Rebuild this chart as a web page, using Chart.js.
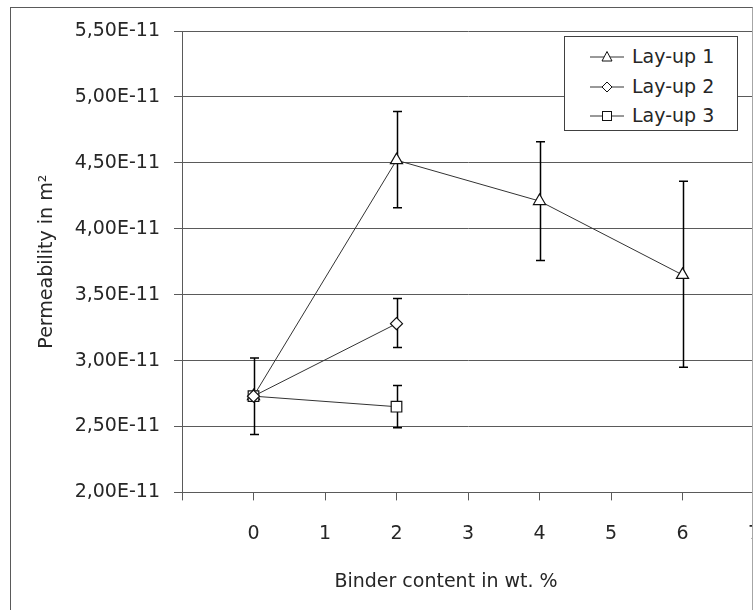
<!DOCTYPE html>
<html>
<head>
<meta charset="utf-8">
<script src="https://cdn.jsdelivr.net/npm/chart.js@4.4.1/dist/chart.umd.min.js"></script>
<style>
    html, body { margin: 0; padding: 0; background: #fff; overflow: hidden; }
    #frame {
        position: absolute; left: 10px; top: 7px; width: 743px; height: 620px;
        box-sizing: border-box; border: 1px solid #5a5a5a; border-right-color: #a6a6a6;
        overflow: hidden; background: #fff;
    }
    #chart { position: absolute; left: 0; top: 0; }
    #legend {
        position: absolute; left: 553px; top: 28px; width: 174px; height: 95px;
        box-sizing: border-box; border: 1px solid #404040; background: #fff;
        font-family: "DejaVu Sans", sans-serif; font-size: 19px; color: #262626;
    }
    .legend-row {
        position: absolute; left: 0; height: 29.5px; line-height: 29.5px;
        display: flex; align-items: center; padding-left: 25px;
    }
    .legend-row svg { margin-right: 8px; }
</style>
</head>
<body>
<div id="frame">
    <canvas id="chart" width="870" height="600"></canvas>
    <div id="legend"></div>
</div>
<script>
// البيانات
const binderContent = [0, 2, 4, 6];
const layup1Perm = [2.73e-11, 4.52e-11, 4.21e-11, 3.65e-11];
const layup1Low  = [2.44e-11, 4.16e-11, 3.76e-11, 2.95e-11];
const layup1High = [3.02e-11, 4.89e-11, 4.66e-11, 4.36e-11];

const layup2Perm = [2.73e-11, 3.28e-11];
const layup2Low  = [null, 3.10e-11];
const layup2High = [null, 3.47e-11];

const layup3Perm = [2.73e-11, 2.65e-11];
const layup3Low  = [null, 2.49e-11];
const layup3High = [null, 2.81e-11];

const seriesNames = ['Lay-up 1', 'Lay-up 2', 'Lay-up 3'];
const seriesMarkers = ['triangle', 'rectRot', 'rect'];
const xRange = [-1, 7];
const yRange = [2.0e-11, 5.5e-11];
const yStep = 0.5e-11;

const TEXT = '#262626';
const GRID = '#5a5a5a';
const FONT = { family: 'DejaVu Sans', size: 19 };

// تجميع النقاط مع أشرطة الخطأ
function buildPoints(values, low, high) {
    return values.map((v, i) => ({ x: binderContent[i], y: v, lo: low[i], hi: high[i] }));
}

// رسم أشرطة الخطأ عبر محاور المكتبة
const errorBars = {
    id: 'errorBars',
    beforeDatasetsDraw(chart) {
        const { ctx, scales: { x, y } } = chart;
        ctx.save();
        ctx.strokeStyle = '#000';
        ctx.lineWidth = 1.5;
        chart.data.datasets.forEach(ds => {
            ds.data.forEach(p => {
                if (p.lo == null || p.hi == null) return;
                const px = Math.round(x.getPixelForValue(p.x)) + 0.5;
                const top = y.getPixelForValue(p.hi);
                const bot = y.getPixelForValue(p.lo);
                ctx.beginPath();
                ctx.moveTo(px, top); ctx.lineTo(px, bot);
                ctx.moveTo(px - 4.5, top); ctx.lineTo(px + 4.5, top);
                ctx.moveTo(px - 4.5, bot); ctx.lineTo(px + 4.5, bot);
                ctx.stroke();
            });
        });
        ctx.restore();
    }
};

function makeDataset(label, points, marker, radius, order) {
    return {
        label,
        data: points,
        order,
        borderColor: '#333',
        borderWidth: 1,
        pointStyle: marker,
        pointRadius: radius,
        pointBackgroundColor: '#fff',
        pointBorderColor: '#111',
        pointBorderWidth: 1.2,
        showLine: true,
        tension: 0
    };
}

const datasets = [
    makeDataset(seriesNames[0], buildPoints(layup1Perm, layup1Low, layup1High), seriesMarkers[0], 7, 3),
    makeDataset(seriesNames[1], buildPoints(layup2Perm, layup2Low, layup2High), seriesMarkers[1], 6, 1),
    makeDataset(seriesNames[2], buildPoints(layup3Perm, layup3Low, layup3High), seriesMarkers[2], 7.5, 2)
];

new Chart(document.getElementById('chart'), {
    type: 'scatter',
    data: { datasets },
    plugins: [errorBars],
    options: {
        responsive: false,
        animation: false,
        layout: { padding: { left: 0, right: 0, top: 23, bottom: 0 } },
        plugins: {
            legend: { display: false },
            tooltip: { enabled: false },
            title: {
                display: true,
                position: 'bottom',
                text: 'Binder content in wt. %',
                color: TEXT,
                font: { ...FONT, weight: 'normal' },
                padding: { top: 3, bottom: 15 }
            }
        },
        scales: {
            x: {
                type: 'linear',
                min: xRange[0],
                max: xRange[1],
                ticks: {
                    stepSize: 1,
                    color: TEXT,
                    font: FONT,
                    padding: 22,
                    callback: v => (v === xRange[0] ? '' : String(v))
                },
                grid: { drawOnChartArea: false, drawTicks: true, tickLength: 8, color: GRID },
                border: { color: GRID, width: 1 }
            },
            y: {
                type: 'linear',
                min: yRange[0],
                max: yRange[1],
                afterFit: s => { s.width = 171; s.paddingTop = 0; s.paddingBottom = 0; },
                ticks: {
                    stepSize: yStep,
                    color: TEXT,
                    font: FONT,
                    padding: 14,
                    callback: v => v.toExponential(2).toUpperCase().replace('.', ',')
                },
                grid: { color: GRID, lineWidth: 1, tickLength: 8 },
                border: { color: GRID, width: 1 },
                title: {
                    display: true,
                    text: 'Permeability in m²',
                    color: TEXT,
                    font: FONT,
                    padding: { top: 25, bottom: 0 }
                }
            },
            // محور وهمي يحجز مساحة على اليمين
            spacer: {
                type: 'linear',
                position: 'right',
                min: 0,
                max: 1,
                afterFit: s => { s.width = 127; s.paddingTop = 0; s.paddingBottom = 0; },
                ticks: { display: false },
                grid: { display: false },
                border: { display: false }
            }
        }
    }
});

// وسيلة الإيضاح
function markerSvg(style) {
    let shape = '';
    if (style === 'triangle') shape = '<polygon points="17,2.5 22,12 12,12" fill="#fff" stroke="#111" stroke-width="1"/>';
    if (style === 'rectRot') shape = '<polygon points="17,3 22,8 17,13 12,8" fill="#fff" stroke="#111" stroke-width="1"/>';
    if (style === 'rect') shape = '<rect x="12.5" y="3.5" width="9" height="9" fill="#fff" stroke="#111" stroke-width="1"/>';
    return `<svg width="34" height="16" viewBox="0 0 34 16">
        <line x1="0" y1="8" x2="34" y2="8" stroke="#333" stroke-width="1"/>${shape}</svg>`;
}

document.getElementById('legend').innerHTML = seriesNames.map((name, i) => `
    <div class="legend-row" style="top:${5.25 + i * 29.5}px">${markerSvg(seriesMarkers[i])}<span>${name}</span></div>
`).join('');
</script>
</body>
</html>
